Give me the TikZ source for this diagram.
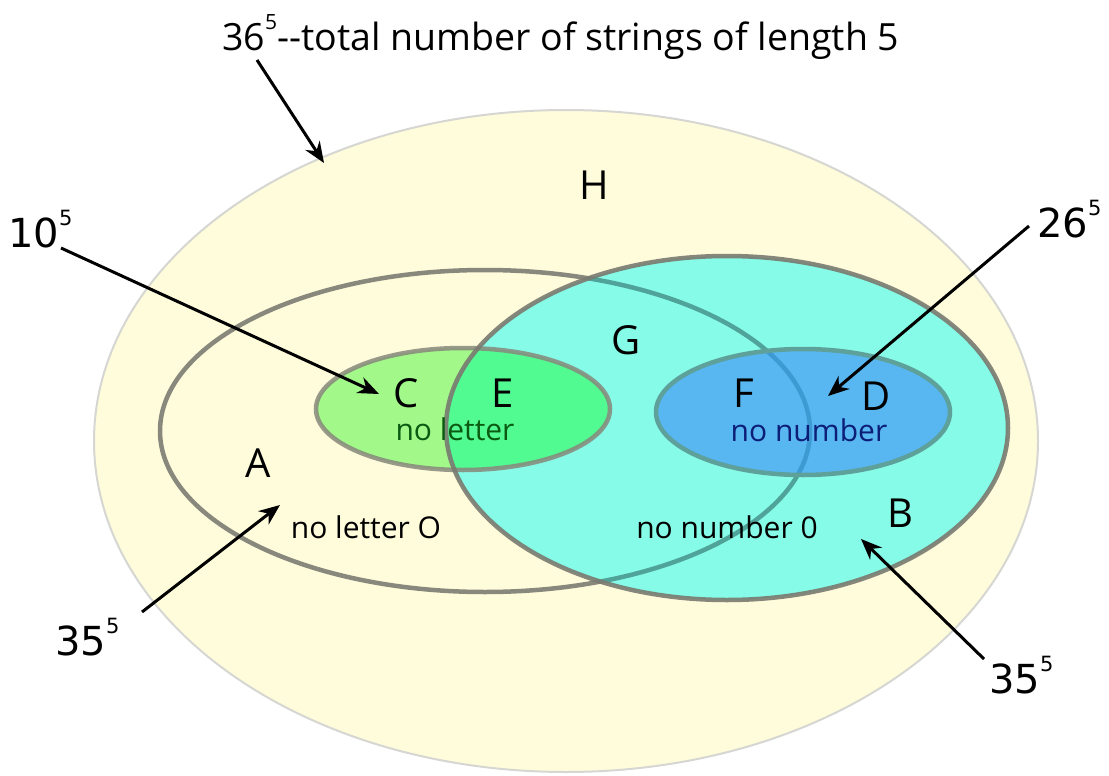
\documentclass[tikz,border=0pt]{standalone}
\usepackage{fontspec}
\setmainfont{Open Sans}
\newfontfamily\numfont{DejaVu Sans}
\usetikzlibrary{arrows.meta}
\definecolor{hfill}{HTML}{FFFCDB}
\definecolor{hline}{HTML}{D6D6D2}
\definecolor{cfill}{HTML}{A2F98A}
\definecolor{efill}{HTML}{52FA92}
\definecolor{bfill}{HTML}{86FBE7}
\definecolor{dfill}{HTML}{58B6F0}
\definecolor{ringgray}{HTML}{88887C}
\definecolor{ringteal}{HTML}{4FA398}
\definecolor{ringblue}{HTML}{3E9AD2}
\definecolor{ringd}{HTML}{5EA09A}
\definecolor{txtgreen}{HTML}{0B5A12}
\definecolor{txtblue}{HTML}{0C1E78}
\newcommand{\supfive}{\raisebox{22pt}{\fontsize{21}{23}\selectfont 5}}
\tikzset{
  ring/.style={draw=ringgray, line width=4.5pt},
  lbl/.style={font=\fontsize{40}{44}\selectfont, inner sep=0pt},
  sublbl/.style={font=\fontsize{30}{34}\selectfont, inner sep=0pt},
  numlbl/.style={font=\numfont\fontsize{40}{44}\selectfont, inner sep=0pt, anchor=base west},
  ptr/.style={line width=3pt, -{Stealth[length=21pt,width=17pt]}},
}
\begin{document}
\begin{tikzpicture}[x=1pt,y=-1pt]
\useasboundingbox (0,0) rectangle (1109,776);
% universe H
\filldraw[fill=hfill, draw=hline, line width=2pt] (566,441) ellipse [x radius=472pt, y radius=331pt];
% C (no letter) fill
\fill[cfill] (463,409) ellipse [x radius=147pt, y radius=61pt];
% A outline
\draw[ring] (485,431) ellipse [x radius=325pt, y radius=161pt];
% B fill
\fill[bfill] (727,428) ellipse [x radius=281pt, y radius=172pt];
\begin{scope}
  \clip (727,428) ellipse [x radius=281pt, y radius=172pt];
  \fill[efill] (463,409) ellipse [x radius=147pt, y radius=61pt];
  \draw[draw=ringteal, line width=4.5pt] (485,431) ellipse [x radius=325pt, y radius=161pt];
\end{scope}
% C outline
\draw[ring, draw opacity=0.85] (463,409) ellipse [x radius=147pt, y radius=61pt];
% B outline
\draw[draw=ringgray!90!black, line width=4.5pt, draw opacity=0.9] (727,428) ellipse [x radius=281pt, y radius=172pt];
% D fill
\fill[dfill] (803,412) ellipse [x radius=147pt, y radius=63pt];
\begin{scope}
  \clip (803,412) ellipse [x radius=147pt, y radius=63pt];
  \draw[draw=ringblue, line width=4.5pt] (485,431) ellipse [x radius=325pt, y radius=161pt];
\end{scope}
\draw[draw=ringd, line width=4.5pt] (803,412) ellipse [x radius=147pt, y radius=63pt];

% region labels
\node[lbl] (H) at (594,185) {H};
\node[lbl] (G) at (626,340) {G};
\node[lbl] (C) at (406,393) {C};
\node[lbl] (E) at (503,393) {E};
\node[lbl] (F) at (744,393) {F};
\node[lbl] (D) at (876,396) {D};
\node[lbl] (A) at (258,463) {A};
\node[lbl] (B) at (900,513) {B};
\node[sublbl, text=txtgreen] (noletter) at (455,429) {no letter};
\node[sublbl, text=txtblue] (nonumber) at (809,430) {no number};
\node[sublbl] (noletterO) at (366,527) {no letter O};
\node[sublbl] (nonumber0) at (727,527) {no number 0};

% title
\node[inner sep=0pt, anchor=base west, font=\fontsize{37.5}{40}\selectfont] (title) at (222,51)
  {36\raisebox{21pt}{\fontsize{21}{23}\selectfont 5}-{}-total number of strings of length 5};

% numbers
\node[numlbl] (n10) at (8,247) {10\supfive};
\node[numlbl] (n26) at (1037,237) {26\supfive};
\node[numlbl] (n35a) at (55,655) {35\supfive};
\node[numlbl] (n35b) at (989,693) {35\supfive};

% arrow endpoints
\coordinate (t0) at (257,60);   \coordinate (t1) at (324,163);
\coordinate (a0) at (61,248);   \coordinate (a1) at (379,394);
\coordinate (b0) at (1029,226); \coordinate (b1) at (828,396);
\coordinate (c0) at (142,612);  \coordinate (c1) at (280,505);
\coordinate (d0) at (984,659);  \coordinate (d1) at (861,539);
\draw[ptr] (t0) -- (t1);
\draw[ptr] (a0) -- (a1);
\draw[ptr] (b0) -- (b1);
\draw[ptr] (c0) -- (c1);
\draw[ptr] (d0) -- (d1);
\end{tikzpicture}
\end{document}
